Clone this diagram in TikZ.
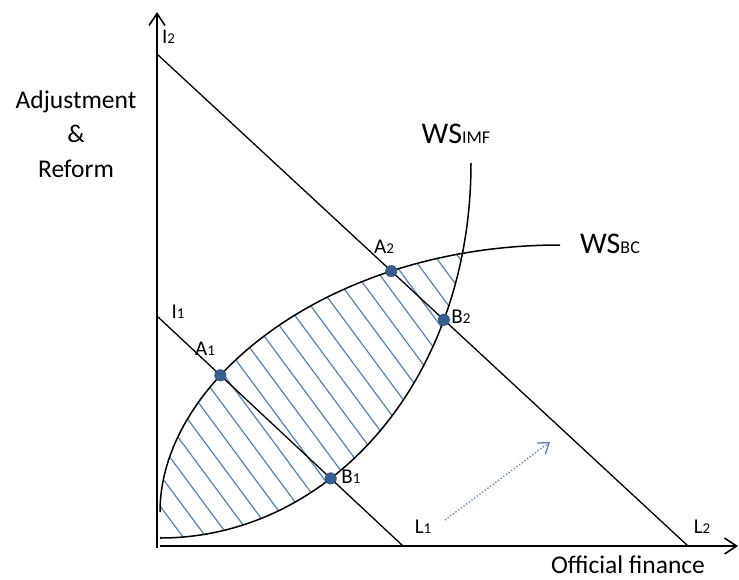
\documentclass[tikz,border=0pt]{standalone}
\usepackage{fontspec}
\setmainfont{Carlito}
\usetikzlibrary{arrows.meta, intersections}
\definecolor{hatchblue}{RGB}{79,129,189}
\definecolor{dotblue}{RGB}{56,94,145}
\newcommand{\lsub}[1]{{\fontsize{15}{15}\selectfont #1}}
\newcommand{\wsub}[1]{{\fontsize{18}{18}\selectfont #1}}
\tikzset{
  axis/.style={line width=1.8pt, -{Straight Barb[length=12pt,width=16pt,line width=1.6pt]}},
  budget/.style={line width=1.3pt},
  curve/.style={line width=1.5pt},
  hatch/.style={line width=1.2pt, color=hatchblue},
  eqpt/.style={circle, fill=dotblue, draw=dotblue!80!black, inner sep=0pt, minimum size=11.5pt},
  lbl/.style={inner sep=0pt, anchor=base, font=\fontsize{21}{24}\selectfont},
  wslbl/.style={inner sep=0pt, anchor=base, font=\fontsize{30}{30}\selectfont},
  axislbl/.style={inner sep=0pt, anchor=base, font=\fontsize{25.5}{34.5}\selectfont},
  shiftarrow/.style={dotted, line width=1.3pt, color=hatchblue,
    -{Straight Barb[length=10pt,width=14pt,line width=1.3pt]}}
}

\begin{document}
\begin{tikzpicture}[x=1pt,y=-1pt]
  \useasboundingbox (0,0) rectangle (739,579);

  % axes
  \coordinate (ybot) at (157,548);
  \coordinate (ytop) at (157,12);
  \coordinate (xleft) at (160,546);
  \coordinate (xright) at (738,546);
  \draw[axis] (ybot) -- (ytop);
  \draw[axis] (xleft) -- (xright);

  % budget lines and WS curves
  \coordinate (i1) at (157,316);
  \coordinate (l1) at (403,546);
  \coordinate (i2) at (157,54);
  \coordinate (l2) at (688,546);
  \coordinate (bcstart) at (160,512);
  \coordinate (bcend) at (560,245);
  \coordinate (imfstart) at (160,538);
  \coordinate (imfend) at (471,163);

  % hatched lens between the two curves
  \begin{scope}
    \clip (bcstart) .. controls (160,380) and (330,245) .. (bcend)
      -- (560,600) -- (160,600) -- cycle;
    \clip (imfstart) .. controls (330,538) and (471,380) .. (imfend)
      -- (160,163) -- cycle;
    \foreach \k in {-2,...,22}
      \draw[hatch] (223+23*\k,591) -- ++(-400,-540);
  \end{scope}

  \draw[budget, name path=budget1] (i1) -- (l1);
  \draw[budget, name path=budget2] (i2) -- (l2);
  \draw[curve, name path=wsbc] (bcstart) .. controls (160,380) and (330,245) .. (bcend);
  \draw[curve, name path=wsimf] (imfstart) .. controls (330,538) and (471,380) .. (imfend);

  % points
  \path[name intersections={of=wsbc and budget1, by=pa1}];
  \path[name intersections={of=wsimf and budget1, by=pb1}];
  \path[name intersections={of=wsbc and budget2, by=pa2}];
  \path[name intersections={of=wsimf and budget2, by=pb2}];
  \node[eqpt] (a1) at (pa1) {};
  \node[eqpt] (b1) at (pb1) {};
  \node[eqpt] (a2) at (pa2) {};
  \node[eqpt] (b2) at (pb2) {};

  % shift of the budget line
  \coordinate (shiftfrom) at (445,520);
  \coordinate (shiftto) at (550,442);
  \draw[shiftarrow] (shiftfrom) -- (shiftto);

  % labels
  \node[lbl] (la1) at (205,355) {A\lsub{1}};
  \node[lbl] (lb1) at (351,483) {B\lsub{1}};
  \node[lbl] (la2) at (384,253) {A\lsub{2}};
  \node[lbl] (lb2) at (461,323) {B\lsub{2}};
  \node[lbl] (ll1) at (423,533) {L\lsub{1}};
  \node[lbl] (ll2) at (702,533) {L\lsub{2}};
  \node[lbl] (li1) at (178,318) {I\lsub{1}};
  \node[lbl, anchor=base west] (li2) at (162,43) {I\lsub{2}};
  \node[wslbl] (lwsimf) at (456,143) {WS\wsub{IMF}};
  \node[wslbl] (lwsbc) at (610,253) {WS\wsub{BC}};
  \node[axislbl] (lx) at (628,573) {Official finance};
  \node[axislbl, align=center] (ly) at (76,177) {Adjustment\\\&\\Reform};
\end{tikzpicture}
\end{document}
